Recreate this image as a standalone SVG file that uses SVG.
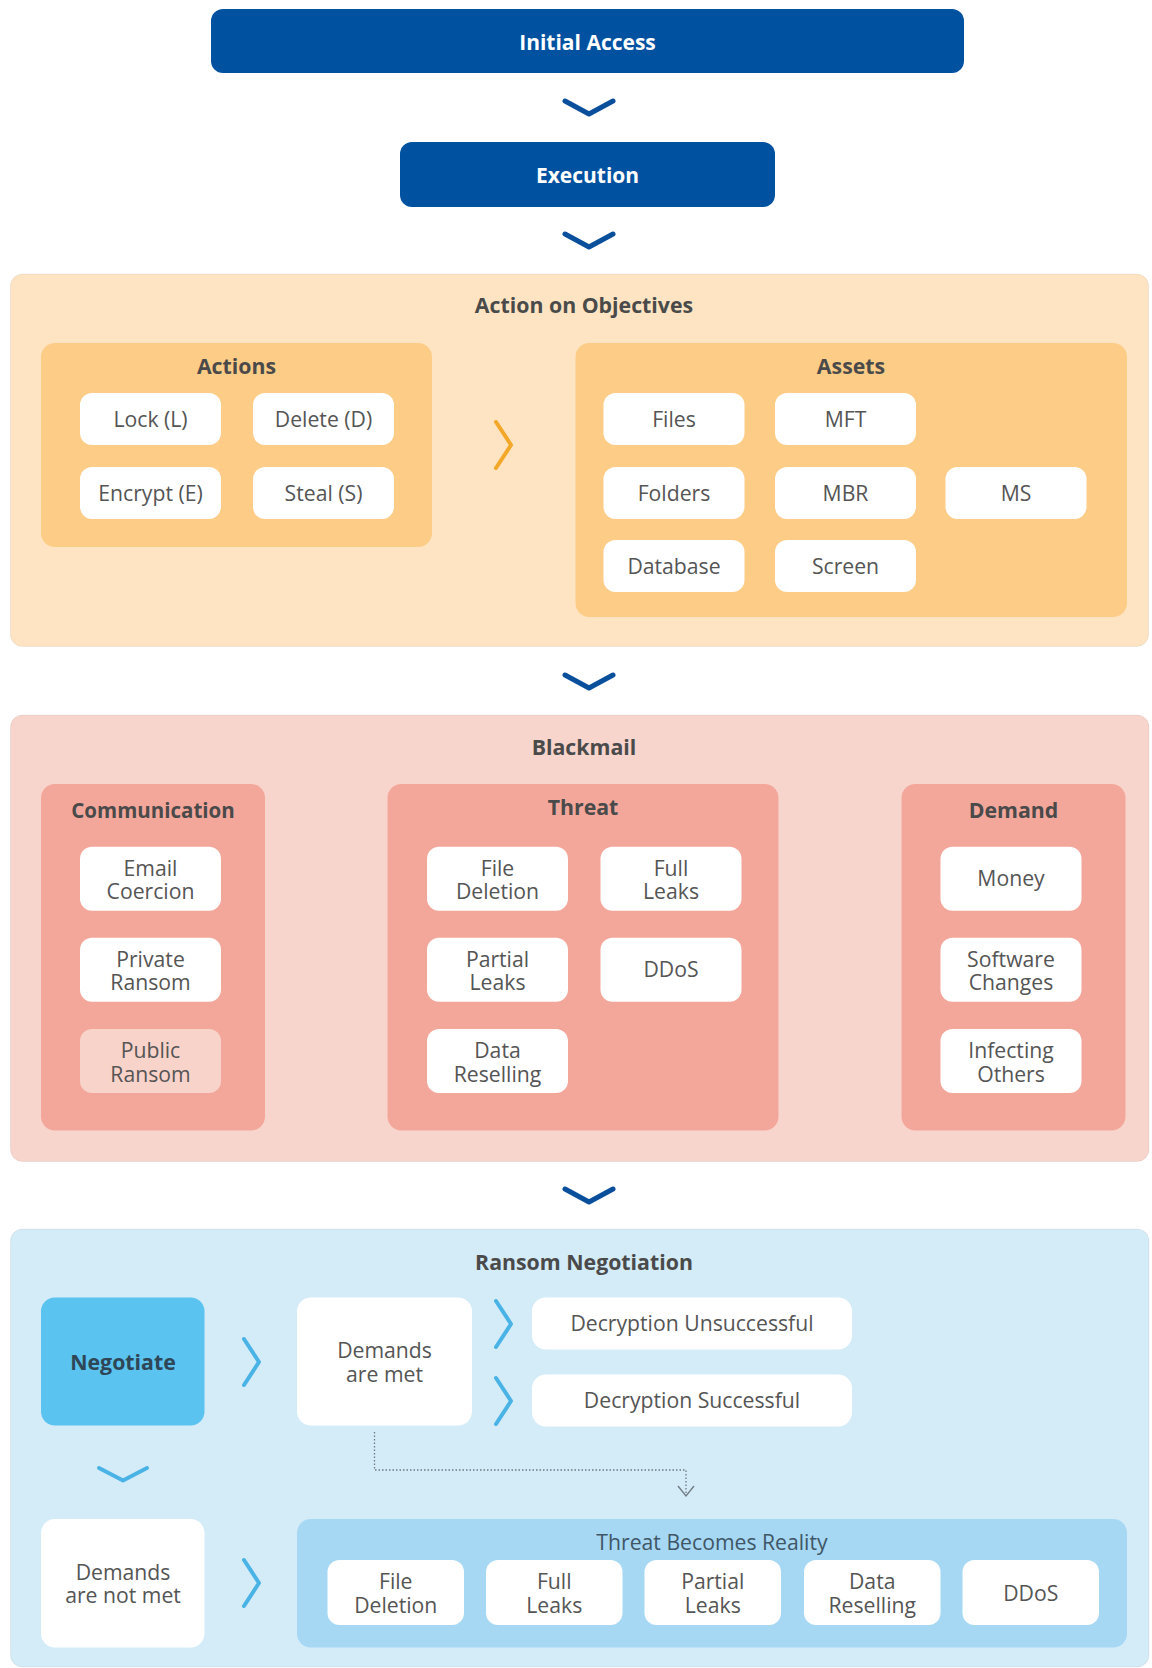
<svg xmlns="http://www.w3.org/2000/svg" width="1152" height="1668" viewBox="0 0 1152 1668">
<defs>
<style>
text{font-family:"Open Sans","Liberation Sans",sans-serif;text-anchor:middle}
.hd{fill:#ffffff;font-size:21px;font-weight:700}
.ti{fill:#4a4a4a;font-size:21.3px;font-weight:700}
.it{fill:#555555;font-size:21.2px;font-weight:400}
.blue{fill:#0051a0}
.item{fill:#ffffff}
.panel{stroke:#000;stroke-opacity:0.06;stroke-width:1}
.chevD{fill:none;stroke:#0a4f9c;stroke-width:5;stroke-linecap:round;stroke-linejoin:round}
.chevO{fill:none;stroke:#f4a82a;stroke-width:4;stroke-linecap:round;stroke-linejoin:round}
.chevB{fill:none;stroke:#4ab3e6;stroke-width:4;stroke-linecap:round;stroke-linejoin:round}
.dot{fill:none;stroke:#6f7a80;stroke-width:1.3;stroke-dasharray:1.5 2}
</style>
</defs>
<rect width="1152" height="1668" fill="#ffffff"/>

<g id="initial-access">
<rect class="blue" x="211" y="9" width="753" height="64" rx="12"/>
<text class="hd" x="587.5" y="49.5">Initial Access</text>
</g>
<g id="execution">
<rect class="blue" x="400" y="142" width="375" height="65" rx="12"/>
<text class="hd" x="587.5" y="183">Execution</text>
</g>

<g id="action-on-objectives">
<rect class="panel" x="10.5" y="274" width="1138" height="372.5" rx="12" fill="#fee4c2"/>
<text class="ti" x="584" y="313">Action on Objectives</text>
</g>
<g id="actions">
<rect x="41" y="343" width="391" height="204" rx="14" fill="#fdcc86"/>
<text class="ti" x="236.5" y="374">Actions</text>
<rect class="item" x="80" y="393" width="141" height="52" rx="12"/>
<text class="it" x="150.5" y="426.5">Lock (L)</text>
<rect class="item" x="253" y="393" width="141" height="52" rx="12"/>
<text class="it" x="323.5" y="426.5">Delete (D)</text>
<rect class="item" x="80" y="467" width="141" height="52" rx="12"/>
<text class="it" x="150.5" y="500.5">Encrypt (E)</text>
<rect class="item" x="253" y="467" width="141" height="52" rx="12"/>
<text class="it" x="323.5" y="500.5">Steal (S)</text>
</g>
<g id="assets">
<rect x="575.5" y="343" width="551.5" height="274" rx="14" fill="#fdcc86"/>
<text class="ti" x="851" y="374">Assets</text>
<rect class="item" x="603.5" y="393" width="141" height="52" rx="12"/>
<text class="it" x="674" y="426.5">Files</text>
<rect class="item" x="775" y="393" width="141" height="52" rx="12"/>
<text class="it" x="845.5" y="426.5">MFT</text>
<rect class="item" x="603.5" y="467" width="141" height="52" rx="12"/>
<text class="it" x="674" y="500.5">Folders</text>
<rect class="item" x="775" y="467" width="141" height="52" rx="12"/>
<text class="it" x="845.5" y="500.5">MBR</text>
<rect class="item" x="945.5" y="467" width="141" height="52" rx="12"/>
<text class="it" x="1016" y="500.5">MS</text>
<rect class="item" x="603.5" y="540" width="141" height="52" rx="12"/>
<text class="it" x="674" y="573.5">Database</text>
<rect class="item" x="775" y="540" width="141" height="52" rx="12"/>
<text class="it" x="845.5" y="573.5">Screen</text>
</g>

<g id="blackmail">
<rect class="panel" x="10.5" y="715" width="1138.5" height="446.5" rx="12" fill="#f8d5cc"/>
<text class="ti" x="584" y="755">Blackmail</text>
</g>
<g id="communication">
<rect x="41" y="784" width="224" height="346.5" rx="14" fill="#f3a79b"/>
<text class="ti" x="153" y="818.3" style="font-size:20.5px">Communication</text>
<rect class="item" x="80" y="846.7" width="141" height="64" rx="12"/>
<text class="it" x="150.5" y="875.7">Email<tspan x="150.5" dy="23.6">Coercion</tspan></text>
<rect class="item" x="80" y="937.7" width="141" height="64" rx="12"/>
<text class="it" x="150.5" y="966.7">Private<tspan x="150.5" dy="23.6">Ransom</tspan></text>
<rect x="80" y="1029" width="141" height="64" rx="12" fill="#f8d3ca"/>
<text class="it" x="150.5" y="1058">Public<tspan x="150.5" dy="23.6">Ransom</tspan></text>
</g>
<g id="threat">
<rect x="387.5" y="784" width="391" height="346.5" rx="14" fill="#f3a79b"/>
<text class="ti" x="583" y="815">Threat</text>
<rect class="item" x="427" y="846.7" width="141" height="64" rx="12"/>
<text class="it" x="497.5" y="875.7">File<tspan x="497.5" dy="23.6">Deletion</tspan></text>
<rect class="item" x="600.5" y="846.7" width="141" height="64" rx="12"/>
<text class="it" x="671" y="875.7">Full<tspan x="671" dy="23.6">Leaks</tspan></text>
<rect class="item" x="427" y="937.7" width="141" height="64" rx="12"/>
<text class="it" x="497.5" y="966.7">Partial<tspan x="497.5" dy="23.6">Leaks</tspan></text>
<rect class="item" x="600.5" y="937.7" width="141" height="64" rx="12"/>
<text class="it" x="671" y="977">DDoS</text>
<rect class="item" x="427" y="1029" width="141" height="64" rx="12"/>
<text class="it" x="497.5" y="1058">Data<tspan x="497.5" dy="23.6">Reselling</tspan></text>
</g>
<g id="demand">
<rect x="901.5" y="784" width="224" height="346.5" rx="14" fill="#f3a79b"/>
<text class="ti" x="1013.5" y="818.3">Demand</text>
<rect class="item" x="940.5" y="846.7" width="141" height="64" rx="12"/>
<text class="it" x="1011" y="886">Money</text>
<rect class="item" x="940.5" y="937.7" width="141" height="64" rx="12"/>
<text class="it" x="1011" y="966.7">Software<tspan x="1011" dy="23.6">Changes</tspan></text>
<rect class="item" x="940.5" y="1029" width="141" height="64" rx="12"/>
<text class="it" x="1011" y="1058">Infecting<tspan x="1011" dy="23.6">Others</tspan></text>
</g>

<g id="ransom-negotiation">
<rect class="panel" x="10.5" y="1229" width="1138.5" height="438" rx="12" fill="#d4ebf8"/>
<text class="ti" x="584" y="1270">Ransom Negotiation</text>
</g>
<g id="negotiate">
<rect x="41" y="1297.5" width="163.5" height="128" rx="14" fill="#5ac3ef"/>
<text class="ti" x="123" y="1370" style="fill:#2e4656">Negotiate</text>
</g>
<g id="demands-met">
<rect class="item" x="297" y="1297.5" width="175" height="128" rx="14"/>
<text class="it" x="384.5" y="1358.3">Demands<tspan x="384.5" dy="23.4">are met</tspan></text>
</g>
<g id="decryption-unsuccessful">
<rect class="item" x="532" y="1297.5" width="320" height="52" rx="14"/>
<text class="it" x="692" y="1331.3">Decryption Unsuccessful</text>
</g>
<g id="decryption-successful">
<rect class="item" x="532" y="1374.5" width="320" height="52" rx="14"/>
<text class="it" x="692" y="1408.3">Decryption Successful</text>
</g>
<g id="demands-not-met">
<rect class="item" x="41" y="1519" width="163.5" height="128.5" rx="14"/>
<text class="it" x="123" y="1580">Demands<tspan x="123" dy="23.3">are not met</tspan></text>
</g>
<g id="threat-becomes-reality">
<rect x="297" y="1519" width="830" height="128.5" rx="14" fill="#a6d8f4"/>
<text class="it" x="712" y="1550" style="fill:#3f5666">Threat Becomes Reality</text>
<rect class="item" x="327.5" y="1560" width="136.5" height="65" rx="12"/>
<text class="it" x="395.75" y="1589.3">File<tspan x="395.75" dy="24">Deletion</tspan></text>
<rect class="item" x="486" y="1560" width="136.5" height="65" rx="12"/>
<text class="it" x="554.25" y="1589.3">Full<tspan x="554.25" dy="24">Leaks</tspan></text>
<rect class="item" x="644.5" y="1560" width="136.5" height="65" rx="12"/>
<text class="it" x="712.75" y="1589.3">Partial<tspan x="712.75" dy="24">Leaks</tspan></text>
<rect class="item" x="804" y="1560" width="136.5" height="65" rx="12"/>
<text class="it" x="872.25" y="1589.3">Data<tspan x="872.25" dy="24">Reselling</tspan></text>
<rect class="item" x="962.5" y="1560" width="136.5" height="65" rx="12"/>
<text class="it" x="1030.75" y="1600.5">DDoS</text>
</g>

<g id="connectors">
<polyline class="chevD" points="565,101 589,114 613,101"/>
<polyline class="chevD" points="565,234 589,247 613,234"/>
<polyline class="chevD" points="565,675 589,688 613,675"/>
<polyline class="chevD" points="565,1189 589,1202 613,1189"/>
<polyline class="chevO" points="496,422 511,445 496,468"/>
<polyline class="chevB" points="244,1339 259,1362 244,1385"/>
<polyline class="chevB" points="496,1301 511,1324 496,1347"/>
<polyline class="chevB" points="496,1378 511,1401 496,1424"/>
<polyline class="chevB" points="99,1468 123,1480.5 147,1468"/>
<polyline class="chevB" points="244,1560 259,1583 244,1606"/>
<path class="dot" d="M374.5 1432 V1470 H686 V1495"/>
<polyline fill="none" stroke="#6f7a80" stroke-width="1.3" points="678,1486 686,1496 694,1486"/>
</g>
</svg>
